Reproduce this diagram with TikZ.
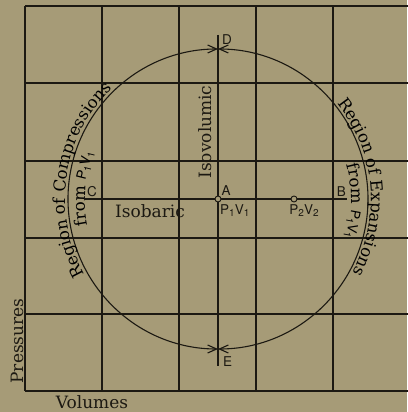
\documentclass[tikz,border=0pt]{standalone}
\usepackage{fontspec}
\setmainfont{DejaVu Serif}
\newfontfamily\heros{TeX Gyre Heros}
\usetikzlibrary{arrows.meta,decorations.text}
\definecolor{paper}{HTML}{A69B77}
\definecolor{ink}{HTML}{1C1912}
\newcommand\sub[1]{\raisebox{-2.8pt}{\fontsize{10}{10}\selectfont#1}}
\newcommand\pv[1]{{\heros\fontsize{13.5}{14}\selectfont P\sub{#1}V\sub{#1}}}
\newcommand\curvefont{\fontsize{16.5}{18}\selectfont}

\begin{document}
\begin{tikzpicture}[x=1pt,y=1pt,color=ink,
  gline/.style={line width=1.1pt},
  heavy/.style={line width=2.8pt},
  orbit/.style={line width=1.1pt,-{Straight Barb[length=9pt,width=8pt]}},
  dot/.style={circle,draw,fill=paper,line width=0.9pt,inner sep=0pt,minimum size=6pt},
  tag/.style={font=\heros\fontsize{13.5}{14}\selectfont,inner sep=1pt},
  word/.style={font=\fontsize{17}{19}\selectfont,inner sep=0pt},
  curve/.style={decorate,decoration={text along path,text align=center,text={|\curvefont|#1}}}]
\useasboundingbox (0,0) rectangle (407,412);
\fill[paper] (0,0) rectangle (407,412);
\foreach \gx in {25,102,179,256,333,410}
  \draw[gline] (\gx,21) -- (\gx,406);
\foreach \gy in {21,98,174,251,329,406}
  \draw[gline] (25,\gy) -- (410,\gy);
\coordinate (c) at (85,213);
\coordinate (b) at (347,213);
\coordinate (d) at (218,377);
\coordinate (e) at (218,46);
\coordinate (west) at (68,213);
\coordinate (east) at (368,213);
\draw[heavy] (c) -- (b);
\draw[heavy] (d) -- (e);
\node[dot] (a) at (218,213) {};
\node[dot] (p2) at (294,213) {};
\draw[orbit] (west) arc[start angle=180,end angle=90,radius=150];
\draw[orbit] (east) arc[start angle=0,end angle=90,radius=150];
\draw[orbit] (west) arc[start angle=180,end angle=270,radius=150];
\draw[orbit] (east) arc[start angle=0,end angle=-90,radius=150];
\node[tag,anchor=south west] at ([shift={(1,1)}]c) {C};
\node[tag,anchor=south west] at (a.north east) {A};
\node[tag,anchor=south east] at ([yshift=1]b) {B};
\node[tag,anchor=north west] at ([shift={(3,2)}]d) {D};
\node[tag,anchor=south west] at ([shift={(4,-2)}]e) {E};
\node[tag,anchor=north west] at ([shift={(1,-4)}]a) {\pv1};
\node[tag,anchor=north] at ([shift={(10,-4)}]p2) {\pv2};
\node[word,anchor=base] at (150,194) {Isobaric};
\node[word,rotate=90] at (205,280) {Isovolumic};
\node[word,rotate=90] at (17,71) {Pressures};
\node[word,anchor=base] at (92,3) {Volumes};
\path[curve=Region of Compressions] (a.center) ++(221.6:153) arc[start angle=221.6,end angle=121.6,radius=153];
\path[curve=from {\pv1}] (a.center) ++(225.6:133) arc[start angle=225.6,end angle=125.6,radius=133];
\path[curve=Region of Expansions] (a.center) ++(55:153) arc[start angle=55,end angle=-45,radius=153];
\path[curve=from {\pv1}] (a.center) ++(49:133) arc[start angle=49,end angle=-51,radius=133];
\end{tikzpicture}
\end{document}
